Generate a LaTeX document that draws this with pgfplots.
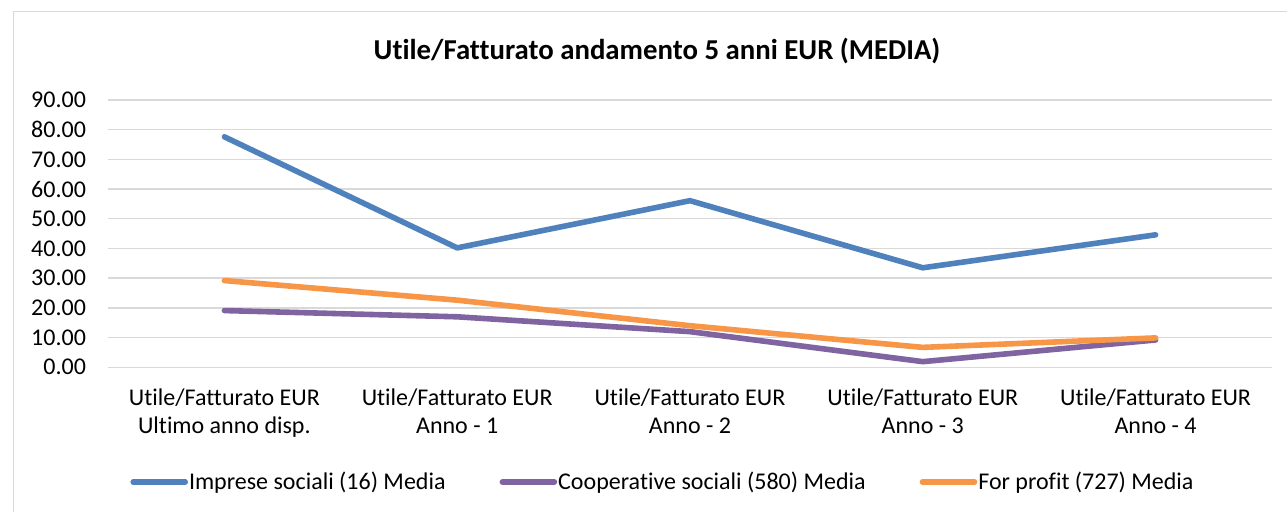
\documentclass[border=0pt]{standalone}
\usepackage{fontspec}
\setmainfont[Ligatures=NoCommon]{Carlito}
\usepackage{pgfplots}
\pgfplotsset{compat=1.18}
\definecolor{cblue}{HTML}{4F81BD}
\definecolor{cpurple}{HTML}{8064A2}
\definecolor{corange}{HTML}{F79646}
\definecolor{cgrid}{HTML}{D9D9D9}
\begin{document}
\begin{tikzpicture}
\useasboundingbox (0pt,0pt) rectangle (643.5pt,256pt);
\draw[cgrid, line width=0.9pt] (6.75pt,250.2pt) rectangle (660pt,-10pt);
\node[font=\fontsize{14.4}{17}\selectfont\bfseries] at (328.5pt,230.5pt) {Utile/Fatturato andamento 5 anni EUR (MEDIA)};
\begin{axis}[
  at={(54pt,72.35pt)}, anchor=south west,
  scale only axis, width=582pt, height=133.65pt,
  xmin=-0.5, xmax=4.5, ymin=0, ymax=90,
  ytick={0,10,20,30,40,50,60,70,80,90},
  xtick={0,1,2,3,4},
  xticklabels={{Utile/Fatturato EUR\\Ultimo anno disp.},{Utile/Fatturato EUR\\Anno - 1},{Utile/Fatturato EUR\\Anno - 2},{Utile/Fatturato EUR\\Anno - 3},{Utile/Fatturato EUR\\Anno - 4}},
  xticklabel style={align=center, font=\fontsize{12}{14}\selectfont, yshift=-7pt},
  yticklabel style={font=\fontsize{12}{14}\selectfont, xshift=-7.5pt},
  /pgf/number format/.cd, fixed, fixed zerofill, precision=2, assume math mode=true,
  /pgfplots/.cd,
  ymajorgrids, major grid style={cgrid, line width=0.7pt},
  axis line style={draw=none}, major tick length=0pt,
  legend columns=3,
  legend style={at={(axis description cs:0.0189,-0.429)}, anchor=west, draw=none, fill=none, inner sep=0pt,
    font=\fontsize{12}{14}\selectfont, nodes={inner sep=0pt},
    /tikz/every odd column/.append style={column sep=0.5pt},
    /tikz/every even column/.append style={column sep=27pt}},
  legend image code/.code={\path (0pt,0pt) -- (26pt,0pt); \draw[#1, line cap=round] (1.4pt,0pt) -- (24.6pt,0pt);},
  every axis plot/.append style={line width=2.8pt, line cap=round, line join=round},
]
\addplot[cblue] coordinates {(0,77.6) (1,40.2) (2,56.1) (3,33.5) (4,44.6)};
\addlegendentry{Imprese sociali (16) Media}
\addplot[cpurple] coordinates {(0,19.1) (1,17.0) (2,12.0) (3,1.9) (4,9.2)};
\addlegendentry{Cooperative sociali (580) Media}
\addplot[corange] coordinates {(0,29.2) (1,22.6) (2,14.0) (3,6.7) (4,9.9)};
\addlegendentry{For profit (727) Media}
\end{axis}
\end{tikzpicture}
\end{document}
